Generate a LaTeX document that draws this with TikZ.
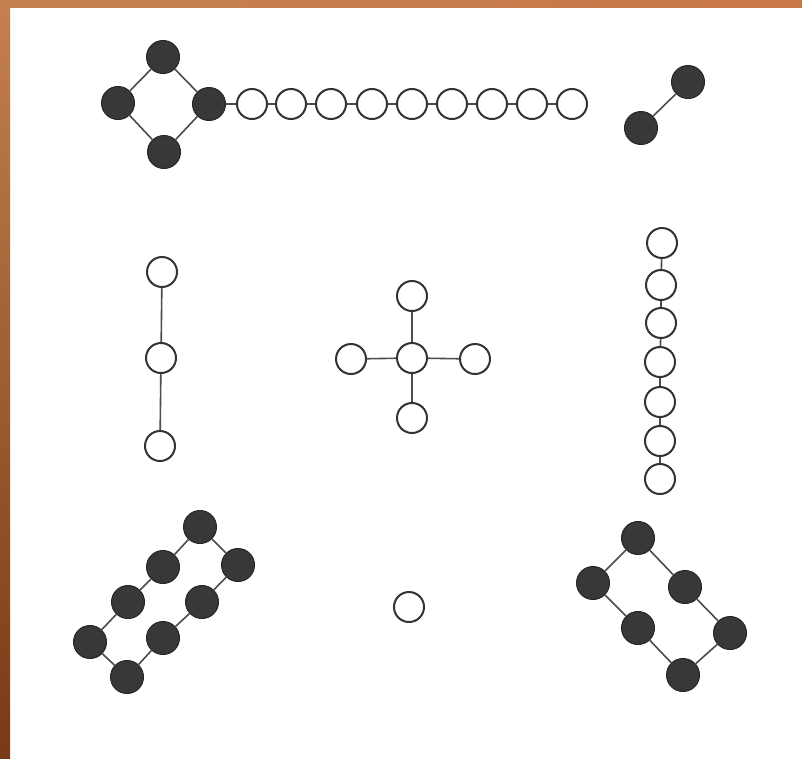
\documentclass[tikz,border=0pt]{standalone}
\begin{document}
\begin{tikzpicture}[x=1pt,y=-1pt,
  atomF/.style={circle,inner sep=0pt,minimum size=33pt,fill=black!78,draw=black!85,line width=1pt},
  atomO/.style={circle,inner sep=0pt,minimum size=30pt,draw=black!80,line width=2pt,fill=none},
  bond/.style={draw=black!70,line width=1.6pt}]
\useasboundingbox (0,0) rectangle (802,758);
\fill[white] (0,0) rectangle (802,758);
\shade[top color={rgb,255:red,196;green,128;blue,80},bottom color={rgb,255:red,120;green,58;blue,20}] (0,0) rectangle (10,758);
\shade[left color={rgb,255:red,196;green,128;blue,80},right color={rgb,255:red,200;green,120;blue,70}] (0,0) rectangle (802,7);

% top-left diamond
\node[atomF] (d1) at (163,57) {};
\node[atomF] (d2) at (118,103) {};
\node[atomF] (d3) at (209,104) {};
\node[atomF] (d4) at (164,152) {};
\draw[bond] (d1) -- (d2) (d1) -- (d3) (d2) -- (d4) (d3) -- (d4);

% chain of open circles
\foreach \i/\x in {1/252,2/291,3/331,4/372,5/412,6/452,7/492,8/532,9/572}
  \node[atomO] (c\i) at (\x,104) {};
\draw[bond] (d3) -- (c1);
\foreach \i [evaluate=\i as \j using int(\i+1)] in {1,...,8}
  \draw[bond] (c\i) -- (c\j);

% top-right pair
\node[atomF] (p1) at (688,82) {};
\node[atomF] (p2) at (641,128) {};
\draw[bond] (p1) -- (p2);

% left vertical
\node[atomO] (l1) at (162,272) {};
\node[atomO] (l2) at (161,358) {};
\node[atomO] (l3) at (160,446) {};
\draw[bond] (l1) -- (l2) (l2) -- (l3);

% center cross
\node[atomO] (x0) at (412,358) {};
\node[atomO] (xt) at (412,296) {};
\node[atomO] (xb) at (412,418) {};
\node[atomO] (xl) at (351,359) {};
\node[atomO] (xr) at (475,359) {};
\draw[bond] (x0) -- (xt) (x0) -- (xb) (x0) -- (xl) (x0) -- (xr);

% right vertical chain
\foreach \i/\x/\y in {1/662/243,2/661/285,3/661/323,4/660/362,5/660/402,6/660/441,7/660/479}
  \node[atomO] (r\i) at (\x,\y) {};
\foreach \i [evaluate=\i as \j using int(\i+1)] in {1,...,6}
  \draw[bond] (r\i) -- (r\j);

% bottom-left 8-ring
\node[atomF] (b1) at (200,527) {};
\node[atomF] (b2) at (163,567) {};
\node[atomF] (b3) at (238,565) {};
\node[atomF] (b4) at (128,602) {};
\node[atomF] (b5) at (202,602) {};
\node[atomF] (b6) at (90,642) {};
\node[atomF] (b7) at (163,638) {};
\node[atomF] (b8) at (127,677) {};
\draw[bond] (b1) -- (b2) (b2) -- (b4) (b4) -- (b6) (b6) -- (b8)
  (b8) -- (b7) (b7) -- (b5) (b5) -- (b3) (b3) -- (b1);

% bottom single
\node[atomO] (s) at (409,607) {};

% bottom-right 6-ring
\node[atomF] (e1) at (638,538) {};
\node[atomF] (e2) at (593,583) {};
\node[atomF] (e3) at (685,587) {};
\node[atomF] (e4) at (638,628) {};
\node[atomF] (e5) at (730,633) {};
\node[atomF] (e6) at (683,675) {};
\draw[bond] (e1) -- (e2) (e1) -- (e3) (e2) -- (e4) (e3) -- (e5) (e4) -- (e6) (e5) -- (e6);
\end{tikzpicture}
\end{document}
